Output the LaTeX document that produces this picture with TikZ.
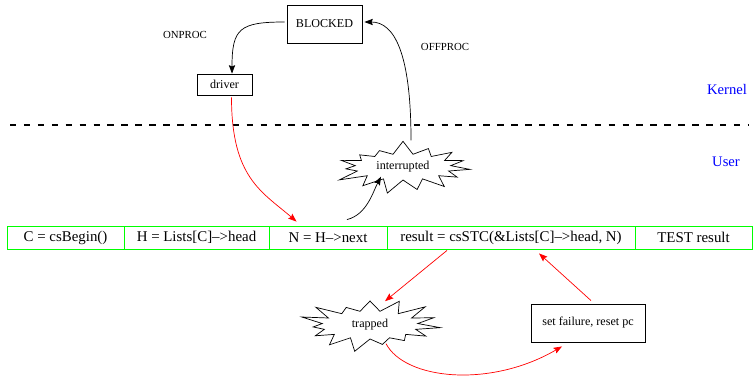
\documentclass[tikz,border=0pt]{standalone}
\usepackage{fontspec}
\setmainfont{Liberation Serif}
\usepackage{tikz}
\usetikzlibrary{calc}
\usetikzlibrary{shapes.symbols}
\usetikzlibrary{arrows.meta}

\tikzset{
    rowbox/.style={draw=green, line width=0.6pt, minimum height=0.575cm, inner sep=0pt,
        font=\fontsize{10.6}{12}\selectfont},
    statebox/.style={draw, line width=0.6pt, inner sep=0pt, font=\fontsize{8.6}{10}\selectfont},
    burst/.style={starburst, draw, line width=0.5pt, starburst point height=0.35cm,
        starburst points=15, inner sep=0pt, minimum width=1.9cm, minimum height=1.35cm,
        xscale=2, transform shape},
    bursttext/.style={font=\fontsize{8.6}{10}\selectfont},
    tag/.style={font=\fontsize{7.7}{9}\selectfont},
    side/.style={text=blue, font=\fontsize{10.4}{12}\selectfont},
    >={Stealth[length=6pt, width=4.5pt, inset=1pt]}
}

\begin{document}
\begin{tikzpicture}[x=0.025cm, y=0.025cm]
    \useasboundingbox (0,0) rectangle (754,383);

    % ---------------- Kernel side ----------------
    \node[statebox, minimum width=1.875cm, minimum height=0.95cm] (blocked) at (324.5,359) {BLOCKED};
    \node[statebox, minimum width=1.375cm, minimum height=0.525cm] (driver) at (224.5,298.5) {driver};

    \node[tag] (onproc) at (185,348) {ONPROC};
    \node[tag] (offproc) at (445,336) {OFFPROC};

    % kernel / user boundary
    \coordinate (sepl) at (10,258);
    \coordinate (sepr) at (748,258);
    \draw[line width=1.8pt, dash pattern=on 4.6pt off 5.3pt] (sepl) -- (sepr);

    \node[side] (kernel) at (727,294) {Kernel};
    \node[side] (user) at (726,221) {User};

    % ---------------- User side ----------------
    \node[burst, random starburst=7] (intr) at (403,216) {};
    \node[bursttext] (intrtext) at (intr.center) {interrupted};

    % code sequence
    \node[rowbox, minimum width=2.925cm] (begin) at (65.5,145.5) {C = csBegin()};
    \node[rowbox, minimum width=3.625cm] (head) at (196.5,145.5) {H = Lists[C]-->head};
    \node[rowbox, minimum width=2.95cm] (nnext) at (328,145.5) {N = H-->next};
    \node[rowbox, minimum width=6.2cm] (result) at (511,145.5) {result = csSTC(\&Lists[C]-->head, N)};
    \node[rowbox, minimum width=2.925cm] (test) at (693.5,145.5) {TEST result};

    % failure path
    \node[burst, random starburst=21, minimum height=1.4cm] (trapped) at (370,58) {};
    \node[bursttext] (trappedtext) at (trapped.center) {trapped};
    \node[statebox, minimum width=2.85cm, minimum height=0.95cm] (setfail) at (588,60) {set failure, reset pc};

    % kernel transitions
    \draw[->, line width=0.5pt] ($(blocked.west)+(-2,2)$) .. controls +(-45,0) and +(0,45) .. ($(driver.north)+(7.5,0)$);
    \draw[->, line width=0.5pt] ($(intr.north)+(8,0)$) .. controls +(0,87) and +(30,0) .. ($(blocked.east)+(2,2)$);

    % resume and interrupt
    \draw[->, red, line width=0.5pt] ($(driver.south)+(7,-2)$) .. controls +(0,-80) and +(-35,30) .. ($(nnext.north west)+(28,4)$);
    \draw[->, line width=0.5pt] ($(nnext.north)+(19,6)$) .. controls +(20,5) and +(-8,-15) .. ($(intr.south)+(-22,4)$);

    % trap and retry
    \draw[->, red, line width=0.5pt] ($(result.south)+(-64,-1)$) -- ($(trapped.north)+(15,-1)$);
    \draw[->, red, line width=0.5pt] ($(trapped.south)+(16,-4)$) .. controls +(19,-36) and +(-72,-42) .. ($(setfail.south)+(-26,-4)$);
    \draw[->, red, line width=0.5pt] ($(setfail.north)+(3,3)$) -- ($(result.south)+(28,-4)$);
\end{tikzpicture}
\end{document}
